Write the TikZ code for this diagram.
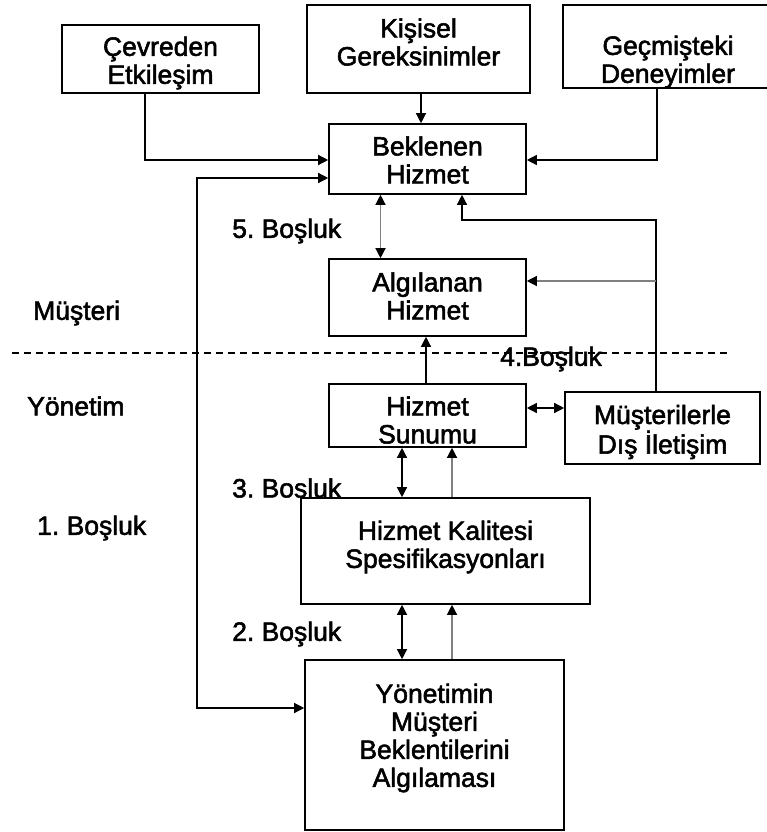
\documentclass[tikz,border=0pt]{standalone}
\usepackage{fontspec}
\setmainfont{Liberation Sans}[FakeBold=2]
\usetikzlibrary{arrows.meta}
\newcommand\diafont{\fontsize{26.5}{28}\selectfont}
\frenchspacing
\begin{document}
\begin{tikzpicture}[x=1pt,y=-1pt,
  box/.style={draw, line width=1.6pt, inner sep=0pt},
  txt/.style={align=center, inner sep=0pt, font=\diafont},
  lbl/.style={anchor=west, inner sep=0pt, font=\diafont},
  tip/.style={-{Triangle[length=10pt,width=10pt,color=black]}},
  arr/.style={line width=1.3pt, tip},
  arrg/.style={line width=1.3pt, draw=gray, tip},
  dbl/.style={line width=1.3pt, {Triangle[length=10pt,width=10pt,color=black]}-{Triangle[length=10pt,width=10pt,color=black]}},
  dblg/.style={dbl, draw=gray}]
\useasboundingbox (0,0) rectangle (766,832);

% boxes
\node[box, minimum width=197pt, minimum height=68pt] (cev) at (160.5,59) {};
\node[box, minimum width=223pt, minimum height=88pt] (kis) at (418.5,49) {};
\node[box, minimum width=205pt, minimum height=83pt] (gec) at (665.5,46.5) {};
\node[box, minimum width=197pt, minimum height=70pt] (bek) at (427.5,159) {};
\node[box, minimum width=197pt, minimum height=77pt] (alg) at (427.5,297.5) {};
\node[box, minimum width=197pt, minimum height=63pt] (sun) at (427.5,415.5) {};
\node[box, minimum width=195pt, minimum height=72pt] (mus) at (662.5,428) {};
\node[box, minimum width=289pt, minimum height=106pt] (kal) at (445.5,551) {};
\node[box, minimum width=259pt, minimum height=170pt] (yon) at (434.5,745) {};

% box texts
\node[txt] (cevt) at (160.5,63) {Çevreden\\Etkileşim};
\node[txt] (kist) at (418.5,42) {Kişisel\\Gereksinimler};
\node[txt] (gect) at (668,62) {Geçmişteki\\Deneyimler};
\node[txt] (bekt) at (427.5,160) {Beklenen\\Hizmet};
\node[txt] (algt) at (427.5,296) {Algılanan\\Hizmet};
\node[txt] (sunt) at (427.5,420) {Hizmet\\Sunumu};
\node[txt] (must) at (662.5,432) {Müşterilerle\\Dış İletişim};
\node[txt] (kalt) at (445.5,547) {Hizmet Kalitesi\\Spesifikasyonları};
\node[txt] (yont) at (434.5,738) {Yönetimin\\Müşteri\\Beklentilerini\\Algılaması};

% labels
\node[lbl] (l5) at (232,231) {5. Boşluk};
\node[lbl] (lm) at (33,313) {Müşteri};
\node[lbl] (l4) at (500,359) {4.Boşluk};
\node[lbl] (ly) at (27,406) {Yönetim};
\node[lbl] (l3) at (232,488) {3. Bosluk};
\node[lbl] (l1) at (37,528) {1. Boşluk};
\node[lbl] (l2) at (232,634) {2. Boşluk};

% dashed divider
\coordinate (dl) at (12,353);
\coordinate (dr) at (729,353);
\draw[line width=1.2pt, dash pattern=on 7pt off 5pt] (dl) -- (dr);

% inputs to Beklenen Hizmet
\draw[arr] ([xshift=2.5pt]kis.south) -- ([xshift=-6.5pt]bek.north);
\draw[arr] ([xshift=-15.5pt]cev.south) |- ([yshift=-1pt]bek.west);
\draw[arr] ([xshift=-8.5pt]gec.south) |- ([yshift=-1pt]bek.east);

% loop to management perception
\coordinate (lt) at (197,178);
\coordinate (lb) at (197,708);
\draw[dbl] (lt -| bek.west) -- (lt) -- (lb) -- (lb -| yon.west);

% gap 5
\draw[dblg] ([xshift=-47pt]bek.south) -- ([xshift=-47pt]alg.north);

% external communication feedback
\coordinate (mc) at (656,220);
\coordinate (mb) at (656,281);
\draw[arr] (mus.north -| mc) -- (mc) -| ([xshift=34.5pt]bek.south);
\draw[arrg] (mb) -- (mb -| alg.east);

% service delivery
\draw[arr] ([xshift=-1.5pt]sun.north) -- ([xshift=-1.5pt]alg.south);
\draw[dbl] ([yshift=7.5pt]sun.east) -- ([yshift=7.5pt]sun.east -| mus.west);

% gap 3
\draw[dbl] ([xshift=-25.5pt]sun.south) -- ([xshift=-25.5pt]sun.south |- kal.north);
\draw[arrg] ([xshift=24.5pt]sun.south |- kal.north) -- ([xshift=24.5pt]sun.south);

% gap 2
\draw[dbl] (kal.south -| 402,0) -- (yon.north -| 402,0);
\draw[arrg] (yon.north -| 452,0) -- (kal.south -| 452,0);
\end{tikzpicture}
\end{document}
